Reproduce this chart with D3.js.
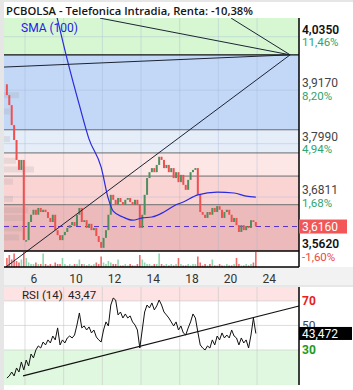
<!DOCTYPE html>
<html>
<head>
<meta charset="utf-8">
<script src="https://cdn.jsdelivr.net/npm/d3@7/dist/d3.min.js"></script>
<style>
  body { margin: 0; background: #fff; }
  svg { display: block; font-family: Roboto, "Noto Sans", sans-serif; }
</style>
</head>
<body>
<div id="chart"></div>
<script>
// trading days shown on the x axis (index 0 = day 6, weekends skipped)
const dayLabels = ["6", "10", "12", "14", "18", "20", "24"];
const dayTicks = [0, 2, 4, 6, 8, 10, 12];
const firstDay = -1;          // data starts on day 5
const candlesPerDay = 8;

const firstOpen = 3.93;
const closes = [
  3.906, 3.884, 3.840, 3.807, 3.763, 3.741, 3.763, 3.586,
  3.586, 3.626, 3.642, 3.653, 3.642, 3.657, 3.648, 3.653,
  3.648, 3.635, 3.626, 3.642, 3.608, 3.597, 3.586, 3.597,
  3.604, 3.613, 3.619, 3.626, 3.617, 3.642, 3.657, 3.626,
  3.630, 3.613, 3.622, 3.608, 3.613, 3.595, 3.582, 3.569,
  3.591, 3.608, 3.642, 3.686, 3.675, 3.664, 3.679, 3.670,
  3.664, 3.675, 3.679, 3.670, 3.664, 3.675, 3.664, 3.613,
  3.642, 3.686, 3.723, 3.736, 3.745, 3.736, 3.752, 3.770,
  3.763, 3.745, 3.752, 3.736, 3.745, 3.723, 3.736, 3.714,
  3.730, 3.708, 3.697, 3.719, 3.736, 3.741, 3.745, 3.686,
  3.648, 3.642, 3.635, 3.648, 3.642, 3.657, 3.648, 3.661,
  3.653, 3.635, 3.648, 3.653, 3.642, 3.626, 3.635, 3.619,
  3.604, 3.619, 3.608, 3.617, 3.613, 3.630, 3.626, 3.616
];
const volumes = [
  6, 8, 5, 9, 4, 3, 5, 10,
  6, 3, 2, 2, 3, 2, 2, 9,
  2, 1, 2, 1, 3, 2, 2, 6,
  2, 1, 2, 1, 2, 2, 5, 2,
  2, 1, 2, 1, 2, 3, 2, 7,
  3, 2, 4, 3, 2, 2, 5, 1,
  1, 2, 1, 2, 1, 1, 2, 8,
  5, 3, 2, 2, 1, 2, 2, 9,
  2, 1, 2, 1, 2, 1, 2, 6,
  2, 1, 1, 2, 1, 2, 2, 7,
  3, 1, 2, 1, 2, 5, 1, 1,
  2, 1, 1, 2, 1, 1, 2, 6,
  2, 1, 1, 2, 1, 2, 3, 10
];
const rsiValues = [
  7.1, 8.8, 12.0, 8.8, 15.3, 12.0, 20.2, 13.7,
  21.8, 16.9, 26.7, 23.5, 30.0, 33.3, 31.6, 36.5,
  34.1, 38.2, 35.7, 41.4, 38.2, 48.0, 34.1, 38.2,
  35.7, 39.8, 41.4, 39.8, 42.2, 50.4, 60.2, 48.0,
  49.6, 46.3, 48.8, 43.9, 46.3, 40.6, 38.2, 36.5,
  46.3, 52.9, 49.6, 66.7, 72.4, 70.8, 58.6, 61.0,
  56.1, 59.4, 56.1, 57.8, 52.9, 50.4, 46.3, 31.6,
  46.3, 61.0, 66.7, 64.3, 68.4, 62.7, 65.9, 70.8,
  66.7, 61.0, 58.6, 56.1, 52.9, 49.6, 52.9, 46.3,
  49.6, 43.9, 42.2, 47.9, 52.9, 59.4, 56.1, 44.7,
  34.1, 31.6, 30.0, 33.3, 31.6, 38.2, 34.1, 41.4,
  38.2, 43.9, 39.8, 42.2, 39.8, 46.3, 41.4, 39.8,
  34.1, 39.8, 35.7, 38.2, 31.6, 42.2, 56.1, 43.47
];

// SMA(100), read at a few candle indexes
const smaIndex = [19, 21, 25, 30, 34, 39, 42, 44, 48, 52, 56, 60, 65, 70, 73, 79, 87, 94, 99, 103];
const smaValues = [4.116, 4.072, 3.984, 3.884, 3.809, 3.747, 3.677, 3.650, 3.637, 3.630,
                   3.635, 3.637, 3.648, 3.664, 3.670, 3.686, 3.692, 3.690, 3.683, 3.681];

// volume profile on the left edge
const profilePrices = [3.906, 3.870, 3.809, 3.761, 3.742, 3.715, 3.677, 3.652, 3.635, 3.612, 3.592];
const profileVolumes = [5, 2, 2, 4, 10, 3, 3, 8, 7, 6, 5];

// fibonacci retracement
const fibLow = 3.562, fibHigh = 3.995;
const fibRatios = [0, 0.236, 0.382, 0.5, 0.618, 1];
const fibZoneColors = ["#ecbaba", "#fad3d3", "#fde6e6", "#e4edf8", "#c3d8f6"];
const aboveFibColor = "#d7f7d3";

// drawn lines, as [day index, price] pairs
const fanLines = [
  [[13.71, 3.995], [-1.09, 3.968]],
  [[13.71, 3.995], [3.88, 4.076]],
  [[13.71, 3.995], [10.66, 4.076]],
  [[13.71, 3.995], [-0.98, 3.527]]
];
const rsiTrend = [[-0.10, 8.8], [14.17, 65.9]];

const priceTicks = [4.035, 3.917, 3.799, 3.6811, 3.562];
const priceTickLabels = ["4,0350", "3,9170", "3,7990", "3,6811", "3,5620"];
const pctLabels = ["11,46%", "8,20%", "4,94%", "1,68%", "-1,60%"];
const lastPrice = 3.616, lastPriceLabel = "3,6160";
const rsiLast = 43.472, rsiLastLabel = "43,472", rsiTitleValue = "43,47";
const rsiLevels = [70, 50, 30];

(function() {
  const W = 353, H = 390;
  const left = 4, right = 299;
  const mainTop = 18, priceBottom = 251, volBottom = 267;
  const rsiTop = 287, rsiBottom = 385;

  const svg = d3.select("#chart").append("svg")
    .attr("width", W).attr("height", H);

  const x = d3.scaleLinear().domain([-1.086, 14.17]).range([left, right]);
  const y = d3.scaleLinear().domain([3.562, 4.0763]).range([priceBottom, mainTop]);
  const yr = d3.scaleLinear().domain([1.4, 81.4]).range([rsiBottom, rsiTop]);
  const vol = d3.scaleLinear().domain([0, 10]).range([volBottom, volBottom - 15]);
  const prof = d3.scaleLinear().domain([0, 10]).range([left, left + 30]);

  const tOf = i => firstDay + (i + 0.5) / candlesPerDay;

  const defs = svg.append("defs");
  defs.append("clipPath").attr("id", "clipPrice").append("rect")
    .attr("x", left).attr("y", mainTop).attr("width", right - left).attr("height", priceBottom - mainTop);
  defs.append("clipPath").attr("id", "clipMain").append("rect")
    .attr("x", left).attr("y", mainTop).attr("width", right - left).attr("height", volBottom - mainTop);

  // frame
  svg.append("rect").attr("width", W).attr("height", H).attr("fill", "#fff");
  svg.append("rect").attr("x", 0).attr("y", 0).attr("width", left).attr("height", H).attr("fill", "#e6e6e6");
  svg.append("rect").attr("x", 0).attr("y", 0).attr("width", W).attr("height", 2).attr("fill", "#e6e6e6");
  svg.append("rect").attr("x", left).attr("y", volBottom).attr("width", W - left).attr("height", rsiTop - volBottom)
    .attr("fill", "#f2f2f2");
  svg.append("line").attr("x1", left).attr("x2", W).attr("y1", rsiTop - 1).attr("y2", rsiTop - 1)
    .attr("stroke", "#dcdcdc");

  // fib zones
  const fibLevels = fibRatios.map(r => fibLow + r * (fibHigh - fibLow));
  const main = svg.append("g");
  main.append("rect")
    .attr("x", left).attr("width", right - left)
    .attr("y", mainTop).attr("height", y(fibHigh) - mainTop)
    .attr("fill", aboveFibColor);
  main.selectAll(".zone")
    .data(fibZoneColors)
    .enter().append("rect")
    .attr("class", "zone")
    .attr("x", left).attr("width", right - left)
    .attr("y", (d, i) => y(fibLevels[i + 1]))
    .attr("height", (d, i) => y(fibLevels[i]) - y(fibLevels[i + 1]))
    .attr("fill", d => d);

  // grid
  const grid = svg.append("g").attr("stroke", "#9db2d2").attr("stroke-opacity", 0.35);
  grid.selectAll(".vg").data(dayTicks).enter().append("line")
    .attr("x1", d => x(d)).attr("x2", d => x(d))
    .attr("y1", mainTop).attr("y2", priceBottom);
  grid.selectAll(".hg").data(priceTicks.slice(0, 4)).enter().append("line")
    .attr("x1", left).attr("x2", right)
    .attr("y1", d => y(d)).attr("y2", d => y(d));

  // volume profile
  svg.append("g").selectAll("rect")
    .data(profilePrices)
    .enter().append("rect")
    .attr("x", left)
    .attr("y", d => y(d) - 3)
    .attr("height", 6)
    .attr("width", (d, i) => prof(profileVolumes[i]) - left)
    .attr("fill", "#9a9a9a").attr("fill-opacity", 0.2);

  // fib level lines
  svg.append("g").selectAll("line")
    .data(fibLevels.slice(1))
    .enter().append("line")
    .attr("x1", left).attr("x2", right)
    .attr("y1", d => y(d)).attr("y2", d => y(d))
    .attr("stroke", (d, i) => i === 4 ? "#111" : "#6b6b6b")
    .attr("stroke-width", (d, i) => i === 4 ? 1.2 : 1);

  // last price dashed
  svg.append("line")
    .attr("x1", left).attr("x2", right)
    .attr("y1", y(lastPrice)).attr("y2", y(lastPrice))
    .attr("stroke", "#5a2fc8").attr("stroke-width", 1)
    .attr("stroke-dasharray", "5,4");

  // volume bars
  const up = (d, i) => d >= (i === 0 ? firstOpen : closes[i - 1]);
  svg.append("g").selectAll("rect")
    .data(volumes)
    .enter().append("rect")
    .attr("x", (d, i) => x(tOf(i)) - 0.8)
    .attr("width", 1.6)
    .attr("y", d => vol(d))
    .attr("height", d => volBottom - vol(d))
    .attr("fill", (d, i) => up(closes[i], i) ? "#8fd8ae" : "#f26a6a");

  // candles
  const candles = svg.append("g").attr("clip-path", "url(#clipPrice)");
  candles.selectAll("rect")
    .data(closes)
    .enter().append("rect")
    .attr("x", (d, i) => x(tOf(i)) - 1)
    .attr("width", 2)
    .attr("y", (d, i) => Math.min(y(d), y(i === 0 ? firstOpen : closes[i - 1])))
    .attr("height", (d, i) => Math.max(1.5, Math.abs(y(d) - y(i === 0 ? firstOpen : closes[i - 1]))))
    .attr("fill", (d, i) => up(d, i) ? "#4f8f5e" : "#ee4f4f");

  // SMA
  const smaLine = d3.line()
    .x(d => x(tOf(d[0])))
    .y(d => y(d[1]))
    .curve(d3.curveMonotoneX);
  svg.append("path")
    .attr("clip-path", "url(#clipPrice)")
    .attr("d", smaLine(smaIndex.map((d, i) => [d, smaValues[i]])))
    .attr("fill", "none").attr("stroke", "#2a2ae0").attr("stroke-width", 1.2);

  // fan lines
  svg.append("g").attr("clip-path", "url(#clipMain)")
    .selectAll("line").data(fanLines).enter().append("line")
    .attr("x1", d => x(d[0][0])).attr("y1", d => y(d[0][1]))
    .attr("x2", d => x(d[1][0])).attr("y2", d => y(d[1][1]))
    .attr("stroke", "#1c2333").attr("stroke-width", 1);

  // panel borders
  svg.append("line").attr("x1", left).attr("x2", right).attr("y1", priceBottom).attr("y2", priceBottom)
    .attr("stroke", "#000").attr("stroke-width", 1.5);
  svg.append("line").attr("x1", left).attr("x2", right).attr("y1", volBottom).attr("y2", volBottom)
    .attr("stroke", "#000").attr("stroke-width", 1.5);
  svg.append("line").attr("x1", right).attr("x2", right).attr("y1", mainTop).attr("y2", volBottom)
    .attr("stroke", "#000").attr("stroke-width", 1.5);

  // title
  svg.append("rect").attr("x", left).attr("y", 2).attr("width", right - left).attr("height", mainTop - 2)
    .attr("fill", "#fff");
  svg.append("text").attr("x", 6).attr("y", 14.5)
    .attr("textLength", 247).attr("lengthAdjust", "spacingAndGlyphs")
    .style("font-family", "'Open Sans', sans-serif").style("font-weight", 600)
    .style("font-size", "11.5px").style("fill", "#151515")
    .text("PCBOLSA - Telefonica Intradia, Renta: -10,38%");
  svg.append("text").attr("x", 21).attr("y", 32)
    .style("font-size", "12px").style("fill", "#2121e6")
    .text("SMA (100)");

  // price axis labels
  const pa = svg.append("g");
  pa.selectAll(".pv").data(priceTicks).enter().append("text")
    .attr("x", right + 3).attr("y", d => y(d) - 3)
    .style("font-size", "12px")
    .style("font-weight", (d, i) => (i === 0 || i === 4) ? 600 : 400)
    .style("fill", (d, i) => (i === 0 || i === 4) ? "#111" : "#444")
    .text((d, i) => priceTickLabels[i]);
  pa.selectAll(".pp").data(priceTicks).enter().append("text")
    .attr("x", right + 3).attr("y", d => y(d) + 9.5)
    .style("font-size", "11.5px")
    .style("fill", (d, i) => pctLabels[i].startsWith("-") ? "#f04545" : "#2ea36f")
    .text((d, i) => pctLabels[i]);
  pa.append("rect").attr("x", right).attr("y", y(lastPrice) - 7).attr("width", 48).attr("height", 14)
    .attr("fill", "#f25656");
  pa.append("text").attr("x", right + 3).attr("y", y(lastPrice) + 4.5)
    .style("font-size", "12px").style("fill", "#fff").text(lastPriceLabel);

  // x axis
  const xAxis = svg.append("g")
    .attr("transform", `translate(0,${volBottom})`)
    .call(d3.axisBottom(x).tickValues(dayTicks).tickFormat((d, i) => dayLabels[i]).tickSize(0));
  xAxis.select(".domain").remove();
  xAxis.selectAll("text")
    .attr("dy", 0).attr("y", 16).attr("x", 5)
    .style("text-anchor", "start")
    .style("font-family", "Roboto, sans-serif")
    .style("font-size", "12px").style("fill", "#333");

  // RSI panel
  const rsi = svg.append("g");
  rsi.append("rect").attr("x", left).attr("width", right - left)
    .attr("y", rsiTop).attr("height", yr(70) - rsiTop).attr("fill", "#fde3e3");
  rsi.append("rect").attr("x", left).attr("width", right - left)
    .attr("y", yr(30)).attr("height", rsiBottom - yr(30)).attr("fill", "#dff8df");
  const rg = rsi.append("g").attr("stroke", "#c8c8c8").attr("stroke-opacity", 0.6);
  rg.selectAll(".v").data(dayTicks).enter().append("line")
    .attr("x1", d => x(d)).attr("x2", d => x(d))
    .attr("y1", rsiTop).attr("y2", rsiBottom);
  rg.selectAll(".h").data(rsiLevels).enter().append("line")
    .attr("x1", left).attr("x2", right)
    .attr("y1", d => yr(d)).attr("y2", d => yr(d));

  const rsiLine = d3.line().x((d, i) => x(tOf(i))).y(d => yr(d));
  rsi.append("path").attr("d", rsiLine(rsiValues))
    .attr("fill", "none").attr("stroke", "#111").attr("stroke-width", 1);
  rsi.append("line")
    .attr("x1", x(rsiTrend[0][0])).attr("y1", yr(rsiTrend[0][1]))
    .attr("x2", x(rsiTrend[1][0])).attr("y2", yr(rsiTrend[1][1]))
    .attr("stroke", "#111").attr("stroke-width", 1.2);
  rsi.append("line").attr("x1", right).attr("x2", right).attr("y1", rsiTop).attr("y2", rsiBottom)
    .attr("stroke", "#000").attr("stroke-width", 1.5);

  rsi.append("text").attr("x", 22).attr("y", 299)
    .style("font-size", "11.5px").style("fill", "#222").text("RSI (14)");
  rsi.append("text").attr("x", 68).attr("y", 299)
    .style("font-size", "11.5px").style("fill", "#222").text(rsiTitleValue);

  const levelColor = { 70: "#e82020", 50: "#444", 30: "#1d9a1d" };
  rsi.selectAll(".lv").data(rsiLevels).enter().append("text")
    .attr("x", right + 3).attr("y", d => yr(d) + 4.5)
    .style("font-size", "12px")
    .style("font-weight", d => d === 50 ? 400 : 700)
    .style("fill", d => levelColor[d])
    .text(d => d);
  rsi.append("rect").attr("x", right).attr("y", yr(rsiLast) - 6.5).attr("width", 53).attr("height", 13)
    .attr("fill", "#000");
  rsi.append("text").attr("x", right + 3).attr("y", yr(rsiLast) + 4.5)
    .style("font-size", "12px").style("fill", "#fff").text(rsiLastLabel);
})();
</script>
</body>
</html>
